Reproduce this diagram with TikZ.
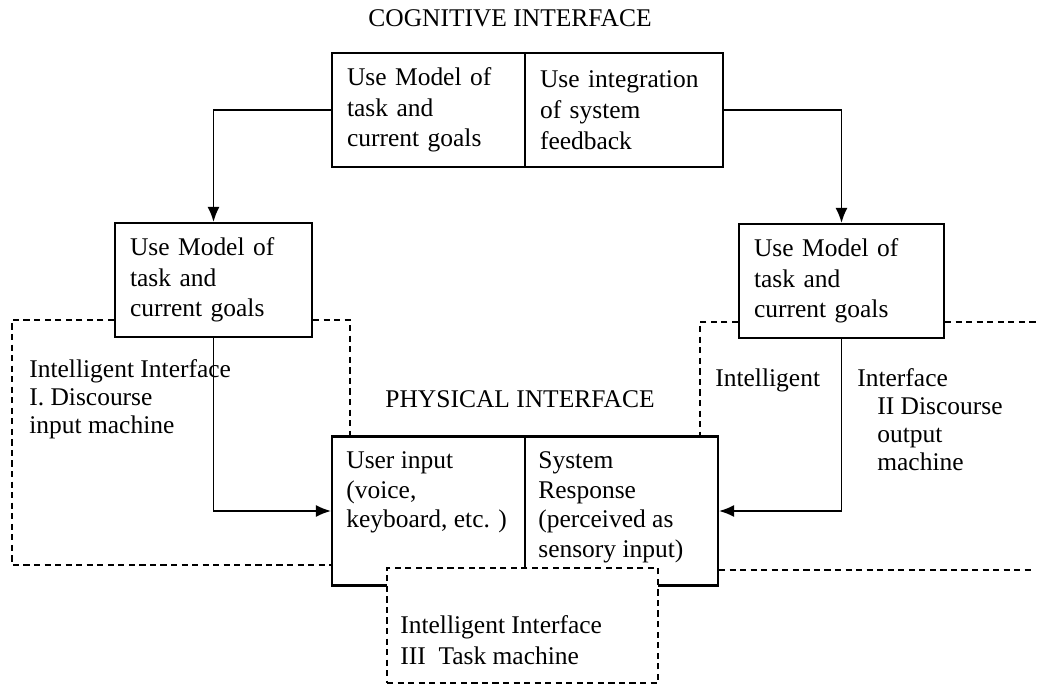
\documentclass[tikz,border=0pt]{standalone}
\usepackage{fontspec}
\setmainfont{Liberation Serif}
\usetikzlibrary{positioning,arrows.meta}

\tikzset{
  box/.style={draw, line width=1.2pt, rectangle, align=left, inner xsep=0.3cm,
    minimum height=2.28cm, font=\fontsize{14.5}{17.5}\selectfont},
  dline/.style={line width=1.1pt, dash pattern=on 3.5pt off 2.5pt},
  conn/.style={-{Latex[length=3mm, width=2.4mm]}, line width=1pt},
  lbl/.style={inner sep=0pt, align=left, anchor=north west},
}

\begin{document}
\begin{tikzpicture}[x=0.02cm, y=-0.02cm, font=\fontsize{14.5}{16}\selectfont]
\useasboundingbox (0,0) rectangle (1037,686);

% titles
\node (cogtitle) at (510,18) {COGNITIVE INTERFACE};
\node (phystitle) at (520,399) {PHYSICAL INTERFACE};

% cognitive interface
\node[box, text width=3.26cm] (cogL) at (428.5,110) {Use Model of\\task and\\current goals};
\node[box, text width=3.36cm] (cogR) at (624,110) {Use integration\\of system\\feedback};

% the two models
\node[box, text width=3.34cm] (useL) at (213.5,280) {Use Model of\\task and\\current goals};
\node[box, text width=3.5cm] (useR) at (841.5,281) {Use Model of\\task and\\current goals};

% physical interface
\node[draw, line width=1.2pt, minimum width=7.72cm, minimum height=2.98cm, inner sep=0pt] (phys) at (525,511) {};
\node[lbl, font=\fontsize{14.5}{17}\selectfont] (physin) at (346,451) {User input\\(voice,\\keyboard, etc. )};
\node[lbl, font=\fontsize{14.5}{17}\selectfont] (physout) at (538,451) {System\\Response\\(perceived as\\sensory input)};

% task machine
\node[draw, dline, fill=white, minimum width=5.42cm, minimum height=2.3cm, inner sep=0pt] (task) at (522.5,625.5) {};
\node[lbl, font=\fontsize{14.5}{17.5}\selectfont] (tasklbl) at (400,615) {Intelligent Interface\\III\enspace Task machine};
\draw[line width=1.2pt] (phys.north) -- (phys.north |- task.north);

% corners of the dashed regions
\coordinate (dl1) at (12,320);
\coordinate (dl2) at (12,565);
\coordinate (dl3) at (350,320);
\coordinate (dr1) at (700,322);
\coordinate (dr2) at (1037,322);
\coordinate (dr3) at (1033,570);

\draw[dline] (useL.west |- dl1) -- (dl1) -- (dl2) -- (phys.west |- dl2);
\draw[dline] (useL.east |- dl3) -- (dl3) -- (dl3 |- phys.north);
\draw[dline] (useR.west |- dr1) -- (dr1) -- (dr1 |- phys.north);
\draw[dline] (useR.east |- dr1) -- (dr2);
\draw[dline] (phys.east |- dr3) -- (dr3);

% interface labels
\node[lbl] (intI) at (29,359) {Intelligent Interface\\I. Discourse\\input machine};
\node[lbl] (intIIa) at (715,368) {Intelligent};
\node[lbl] (intIIb) at (857,368) {Interface};
\node[lbl] (intIIc) at (877,397) {II Discourse\\output\\machine};

% arrows
\draw[conn] (cogL.west) -| (useL.north);
\draw[conn] (cogR.east) -| (useR.north);
\draw[conn] (useL.south) |- (phys.west);
\draw[conn] (useR.south) |- (phys.east);

\end{tikzpicture}
\end{document}
